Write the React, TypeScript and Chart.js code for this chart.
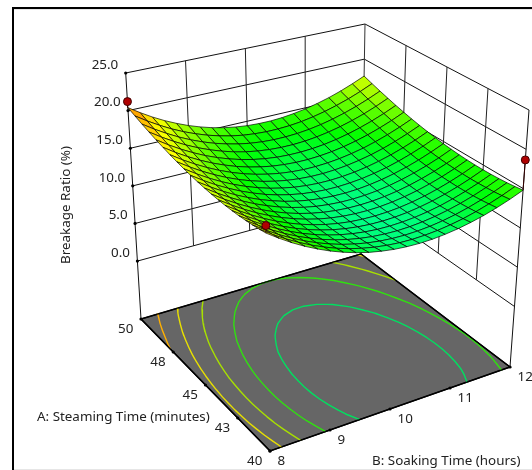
import React, { useEffect, useRef } from "react";
import Chart from "chart.js/auto";

const steamingTimes = [50, 49.5, 49, 48.5, 48, 47.5, 47, 46.5, 46, 45.5, 45, 44.5, 44, 43.5, 43, 42.5, 42, 41.5, 41, 40.5, 40];
const soakingTimes = [8, 8.2, 8.4, 8.6, 8.8, 9, 9.2, 9.4, 9.6, 9.8, 10, 10.2, 10.4, 10.6, 10.8, 11, 11.2, 11.4, 11.6, 11.8, 12];
// Breakage ratio: one row per steaming time, one column per soaking time.
const breakage = [
  [20.40, 19.39, 18.46, 17.63, 16.90, 16.25, 15.70, 15.23, 14.86, 14.59, 14.40, 14.31, 14.30, 14.39, 14.58, 14.85, 15.22, 15.67, 16.22, 16.87, 17.60],
  [20.02, 19.00, 18.08, 17.24, 16.50, 15.86, 15.30, 14.84, 14.46, 14.18, 14.00, 13.90, 13.90, 13.98, 14.16, 14.44, 14.80, 15.26, 15.80, 16.44, 17.18],
  [19.66, 18.64, 17.72, 16.88, 16.14, 15.49, 14.93, 14.47, 14.09, 13.81, 13.62, 13.52, 13.52, 13.60, 13.78, 14.05, 14.41, 14.87, 15.41, 16.05, 16.78],
  [19.34, 18.32, 17.39, 16.55, 15.81, 15.16, 14.60, 14.13, 13.75, 13.47, 13.28, 13.18, 13.17, 13.25, 13.43, 13.70, 14.06, 14.51, 15.05, 15.69, 16.42],
  [19.04, 18.02, 17.09, 16.25, 15.50, 14.85, 14.29, 13.82, 13.44, 13.15, 12.96, 12.86, 12.85, 12.93, 13.10, 13.37, 13.73, 14.18, 14.72, 15.35, 16.08],
  [18.78, 17.75, 16.82, 15.98, 15.23, 14.58, 14.01, 13.54, 13.16, 12.87, 12.68, 12.57, 12.56, 12.64, 12.81, 13.08, 13.43, 13.88, 14.42, 15.05, 15.78],
  [18.54, 17.51, 16.58, 15.74, 14.99, 14.33, 13.76, 13.29, 12.91, 12.62, 12.42, 12.31, 12.30, 12.38, 12.55, 12.81, 13.16, 13.61, 14.15, 14.78, 15.50],
  [18.34, 17.31, 16.37, 15.53, 14.78, 14.12, 13.55, 13.07, 12.69, 12.40, 12.20, 12.09, 12.07, 12.15, 12.32, 12.58, 12.93, 13.37, 13.91, 14.54, 15.26],
  [18.16, 17.13, 16.19, 15.35, 14.59, 13.93, 13.36, 12.88, 12.50, 12.20, 12.00, 11.89, 11.87, 11.95, 12.11, 12.37, 12.72, 13.16, 13.70, 14.32, 15.04],
  [18.02, 16.98, 16.04, 15.20, 14.44, 13.78, 13.20, 12.72, 12.34, 12.04, 11.84, 11.72, 11.70, 11.78, 11.94, 12.20, 12.54, 12.98, 13.52, 14.14, 14.86],
  [17.90, 16.87, 15.92, 15.07, 14.32, 13.65, 13.08, 12.59, 12.20, 11.91, 11.70, 11.59, 11.56, 11.63, 11.80, 12.05, 12.40, 12.83, 13.36, 13.99, 14.70],
  [17.82, 16.78, 15.84, 14.98, 14.22, 13.56, 12.98, 12.50, 12.10, 11.80, 11.60, 11.48, 11.46, 11.52, 11.68, 11.94, 12.28, 12.72, 13.24, 13.86, 14.58],
  [17.76, 16.72, 15.78, 14.92, 14.16, 13.49, 12.91, 12.43, 12.03, 11.73, 11.52, 11.40, 11.38, 11.44, 11.60, 11.85, 12.19, 12.63, 13.15, 13.77, 14.48],
  [17.74, 16.70, 15.75, 14.89, 14.13, 13.46, 12.88, 12.39, 11.99, 11.69, 11.48, 11.36, 11.33, 11.39, 11.55, 11.80, 12.14, 12.57, 13.09, 13.71, 14.42],
  [17.74, 16.70, 15.75, 14.89, 14.12, 13.45, 12.87, 12.38, 11.98, 11.67, 11.46, 11.34, 11.31, 11.37, 11.52, 11.77, 12.11, 12.54, 13.06, 13.67, 14.38],
  [17.78, 16.73, 15.78, 14.92, 14.15, 13.48, 12.89, 12.40, 12.00, 11.69, 11.48, 11.35, 11.32, 11.38, 11.53, 11.78, 12.11, 12.54, 13.06, 13.67, 14.38],
  [17.84, 16.79, 15.84, 14.98, 14.21, 13.53, 12.94, 12.45, 12.05, 11.74, 11.52, 11.39, 11.36, 11.42, 11.57, 11.81, 12.14, 12.57, 13.09, 13.70, 14.40],
  [17.94, 16.89, 15.93, 15.07, 14.30, 13.62, 13.03, 12.53, 12.13, 11.82, 11.60, 11.47, 11.43, 11.49, 11.64, 11.88, 12.21, 12.63, 13.15, 13.76, 14.46],
  [18.06, 17.01, 16.05, 15.19, 14.41, 13.73, 13.14, 12.64, 12.24, 11.92, 11.70, 11.57, 11.53, 11.59, 11.73, 11.97, 12.30, 12.72, 13.24, 13.84, 14.54],
  [18.22, 17.16, 16.20, 15.34, 14.56, 13.88, 13.28, 12.78, 12.38, 12.06, 11.84, 11.70, 11.66, 11.72, 11.86, 12.10, 12.42, 12.84, 13.36, 13.96, 14.66],
  [18.40, 17.35, 16.38, 15.51, 14.74, 14.05, 13.46, 12.95, 12.54, 12.23, 12.00, 11.87, 11.82, 11.87, 12.02, 12.25, 12.58, 12.99, 13.50, 14.10, 14.80],
];
const zTicks = [0, 5, 10, 15, 20, 25];
const zLabels = ["0.0", "5.0", "10.0", "15.0", "20.0", "25.0"];
const aTicks = [40, 42.5, 45, 47.5, 50];
const aLabels = ["40", "43", "45", "48", "50"];
const bTicks = [8, 9, 10, 11, 12];
const bLabels = ["8", "9", "10", "11", "12"];
const contourLevels = [12.75, 14.3, 15.9, 17.4, 18.9];
const contourColors = ["#00e060", "#30e010", "#a8e000", "#e8e000", "#ffb000"];
const designA = [50, 40, 40];
const designB = [8, 8, 12];
const designZ = [21.2, 19.3, 18.65];
const FLOOR = -7.7;
const TOP = 25;

const floorCorners = { fl: [270, 451], fr: [510, 367], bl: [141, 319], br: [361, 254] };
const topCorners = { fl: [265, 178], fr: [529, 110], bl: [125.7, 73], br: [365, 24] };
const mix = (p: number, q: number, t: number) => p + (q - p) * t;
const proj = (B: number, A: number, z: number) => {
  const u = (B - 8) / 4, v = (A - 40) / 10, w = (z - FLOOR) / (TOP - FLOOR);
  const at = (k: 0 | 1) => {
    const lo = mix(mix(floorCorners.fl[k], floorCorners.fr[k], u), mix(floorCorners.bl[k], floorCorners.br[k], u), v);
    const hi = mix(mix(topCorners.fl[k], topCorners.fr[k], u), mix(topCorners.bl[k], topCorners.br[k], u), v);
    return mix(lo, hi, w);
  };
  return { x: at(0), y: at(1) };
};
const colorOf = (z: number) => `hsl(${152 - 13.4 * (z - 11.3)},100%,50%)`;

function buildDatasets() {
  const ds: any[] = [];
  const line = (data: any[], color: string, width = 1, extra: any = {}) =>
    ds.push({ data, showLine: true, borderColor: color, borderWidth: width, pointRadius: 0, fill: false, tension: 0, clip: false, ...extra });
  const floor = [proj(8, 50, FLOOR), proj(8, 40, FLOOR), proj(12, 40, FLOOR), proj(12, 50, FLOOR), proj(8, 50, FLOOR)];
  line(floor, "#000", 1.5, { fill: "shape", backgroundColor: "#666666" });
  contourLevels.forEach((lv, li) => {
    const pts: any[] = [];
    const nA = steamingTimes.length, nB = soakingTimes.length;
    for (let i = 0; i + 1 < nA; i++) for (let j = 0; j + 1 < nB; j++) {
      const c = [[i, j], [i, j + 1], [i + 1, j + 1], [i + 1, j]];
      const hits: any[] = [];
      for (let e = 0; e < 4; e++) {
        const [i0, j0] = c[e], [i1, j1] = c[(e + 1) % 4];
        const z0 = breakage[i0][j0], z1 = breakage[i1][j1];
        if ((z0 < lv) !== (z1 < lv)) {
          const t = (lv - z0) / (z1 - z0);
          const A = steamingTimes[i0] + t * (steamingTimes[i1] - steamingTimes[i0]);
          const B = soakingTimes[j0] + t * (soakingTimes[j1] - soakingTimes[j0]);
          hits.push(proj(B, A, FLOOR));
        }
      }
      if (hits.length >= 2) pts.push(hits[0], hits[1], { x: NaN, y: NaN });
    }
    line(pts, contourColors[li], 1.4, { borderCapStyle: "round" });
  });
  line(floor, "#000", 1.3);
  zTicks.forEach((z) => line([proj(8, 50, z), proj(12, 50, z), proj(12, 40, z)], "#111", 1));
  [9, 10, 11].forEach((B) => line([proj(B, 50, 0), proj(B, 50, 25)], "#222", 1));
  [47.5, 45, 42.5].forEach((A) => line([proj(12, A, 0), proj(12, A, 25)], "#222", 1));
  line([proj(8, 50, FLOOR), proj(8, 50, 25)], "#111", 1);
  line([proj(12, 50, FLOOR), proj(12, 50, 25)], "#333", 1);
  line([proj(12, 40, FLOOR), proj(12, 40, 25)], "#111", 1);
  const dots = [
    ...zTicks.map((z) => proj(8, 50, z)),
    ...aTicks.map((A) => proj(8, A, FLOOR)),
    ...bTicks.map((B) => proj(B, 40, FLOOR)),
  ];
  ds.push({ data: dots, showLine: false, pointRadius: 1.6, pointBackgroundColor: "#000", pointBorderWidth: 0, clip: false });
  for (let i = 0; i + 1 < steamingTimes.length; i++) {
    for (let j = soakingTimes.length - 2; j >= 0; j--) {
      const cs: [number, number][] = [[i, j], [i, j + 1], [i + 1, j + 1], [i + 1, j], [i, j]];
      const pts = cs.map(([a, b]) => proj(soakingTimes[b], steamingTimes[a], breakage[a][b]));
      const zm = (breakage[i][j] + breakage[i][j + 1] + breakage[i + 1][j + 1] + breakage[i + 1][j]) / 4;
      line(pts, "rgba(0,0,0,0.85)", 0.8, { fill: "shape", backgroundColor: colorOf(zm) });
    }
  }
  designA.forEach((A, k) => {
    const zs = breakage[steamingTimes.indexOf(A)][soakingTimes.indexOf(designB[k])];
    line([proj(designB[k], A, zs), proj(designB[k], A, designZ[k])], "#300", 1);
    ds.push({ data: [proj(designB[k], A, designZ[k])], showLine: false, pointRadius: 4, pointBackgroundColor: "#b00000", pointBorderColor: "#400000", pointBorderWidth: 1, clip: false });
  });
  return ds;
}

const FONT = '13.4px "Noto Sans", sans-serif';
const textPlugin = {
  id: "text3d",
  beforeDraw(chart: any) {
    const c = chart.ctx;
    c.save();
    c.fillStyle = "#fff"; c.fillRect(0, 0, 532, 470);
    c.fillStyle = "#000"; c.fillRect(12, 7, 520, 2); c.fillRect(12, 7, 2, 463);
    c.fillStyle = "#e6e6e6"; c.fillRect(14, 9, 518, 1); c.fillRect(14, 469, 518, 1);
    c.restore();
  },
  afterDatasetsDraw(chart: any) {
    const c = chart.ctx;
    c.save();
    c.font = FONT; c.fillStyle = "#222"; c.textBaseline = "middle";
    c.textAlign = "right";
    zTicks.forEach((z, i) => { const p = proj(8, 50, z); c.fillText(zLabels[i], p.x - 7.5, p.y - 8); });
    c.textAlign = "center";
    aTicks.forEach((A, i) => { const p = proj(8, A, FLOOR); c.fillText(aLabels[i], p.x - 15.3, p.y + 10.3); });
    c.textAlign = "left";
    bTicks.forEach((B, i) => { const p = proj(B, 40, FLOOR); c.fillText(bLabels[i], p.x + 7.5, p.y + 10); });
    c.fillText("A: Steaming Time (minutes)", 37, 417);
    c.fillText("B: Soaking Time (hours)", 372, 461);
    c.translate(66, 205); c.rotate(-Math.PI / 2); c.textAlign = "center";
    c.fillText("Breakage Ratio (%)", 0, 0);
    c.restore();
  },
};

export default function App() {
  const ref = useRef<HTMLCanvasElement>(null);
  useEffect(() => {
    const chart = new Chart(ref.current!, {
      type: "scatter",
      data: { datasets: buildDatasets().reverse() },
      options: {
        animation: false, responsive: false, events: [],
        layout: { padding: 0, autoPadding: false },
        plugins: { legend: { display: false }, tooltip: { enabled: false }, title: { display: false } },
        scales: {
          x: { type: "linear", min: 0, max: 532, display: false },
          y: { type: "linear", min: 0, max: 470, reverse: true, display: false },
        },
      },
      plugins: [textPlugin],
    } as any);
    return () => chart.destroy();
  }, []);
  return <canvas ref={ref} width={532} height={470} style={{ position: "fixed", left: 0, top: 0, display: "block" }} />;
}
